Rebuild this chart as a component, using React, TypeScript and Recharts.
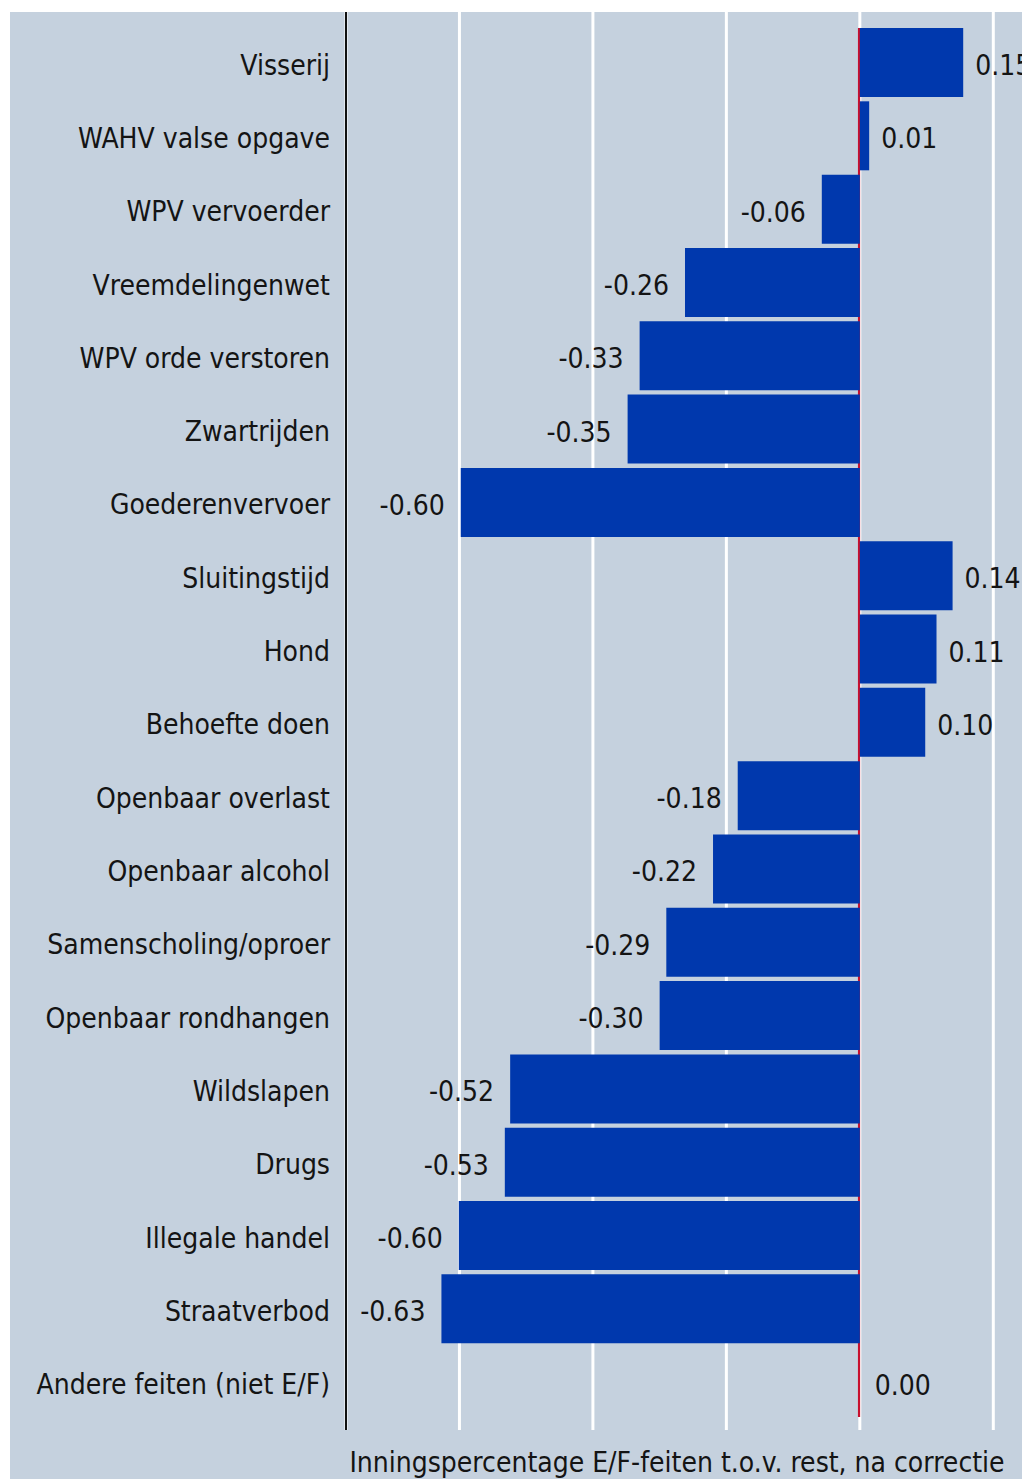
import { Bar, BarChart, CartesianGrid, Cell, LabelList, ReferenceLine, XAxis, YAxis } from "recharts";

const categories = [
  "Visserij",
  "WAHV valse opgave",
  "WPV vervoerder",
  "Vreemdelingenwet",
  "WPV orde verstoren",
  "Zwartrijden",
  "Goederenvervoer",
  "Sluitingstijd",
  "Hond",
  "Behoefte doen",
  "Openbaar overlast",
  "Openbaar alcohol",
  "Samenscholing/oproer",
  "Openbaar rondhangen",
  "Wildslapen",
  "Drugs",
  "Illegale handel",
  "Straatverbod",
  "Andere feiten (niet E/F)",
];

const values = [
  0.1549, 0.014, -0.057, -0.262, -0.33, -0.348, -0.598, 0.139, 0.1149, 0.098, -0.183, -0.22, -0.29, -0.3, -0.524,
  -0.532, -0.601, -0.627, 0,
];

const gridTicks = [-0.6, -0.4, -0.2, 0, 0.2];
const axisTitle = "Inningspercentage E/F-feiten t.o.v. rest, na correctie";

const chartData = categories.map((name, i) => ({ name, value: values[i] }));

const bg = "#c5d1de";
const barFill = "#0038ad";
const zeroRed = "#c8102e";
const textColor = "#141414";
const font = "'DejaVu Sans Condensed', 'DejaVu Sans', sans-serif";

const ValueLabel = (props: any) => {
  const { x, y, width, height, value } = props;
  const left = Math.min(Number(x), Number(x) + Number(width));
  const right = Math.max(Number(x), Number(x) + Number(width));
  const v = Number(value);
  const cy = Number(y) + Number(height) / 2 + 3;
  const tx = v > 0 ? right + 12 : v < 0 ? left - 16 : right + 14;
  return (
    <text
      x={tx}
      y={cy}
      textAnchor={v < 0 ? "end" : "start"}
      dominantBaseline="central"
      fontSize={28}
      fontFamily={font}
      fontStretch="condensed"
      fill={textColor}
    >
      {v.toFixed(2)}
    </text>
  );
};

const ZeroLine = (props: any) => {
  const { x1, y1, x2, y2 } = props;
  const top = Math.min(y1, y2);
  const bottom = Math.max(y1, y2);
  return <line x1={x1 - 0.8} x2={x2 - 0.8} y1={top + 16} y2={bottom - 13} stroke={zeroRed} strokeWidth={2.2} />;
};

const AxisTitle = (props: any) => {
  const vb = props.viewBox || {};
  return (
    <text
      x={vb.x + vb.width / 2 - 11}
      y={vb.y + 32}
      textAnchor="middle"
      dominantBaseline="central"
      fontSize={28}
      fontFamily={font}
      fontStretch="condensed"
      fill={textColor}
    >
      {axisTitle}
    </text>
  );
};

const NoTick = () => <g />;

export default function App() {
  return (
    <div style={{ marginLeft: 2, marginTop: 4, width: 1020, height: 1467, background: bg, overflow: "hidden" }}>
      <BarChart
        width={1020}
        height={1467}
        data={chartData}
        layout="vertical"
        barSize={69}
        margin={{ top: 0, right: 0, bottom: 0, left: 0 }}
      >
        <CartesianGrid horizontal={false} stroke="#ffffff" strokeWidth={3} strokeOpacity={1} />
        <XAxis
          type="number"
          domain={[-0.77, 0.255]}
          ticks={gridTicks}
          allowDataOverflow
          tick={NoTick}
          tickLine={false}
          axisLine={false}
          height={49}
          label={<AxisTitle />}
        />
        <YAxis
          type="category"
          dataKey="name"
          width={336}
          padding={{ top: 14, bottom: 11 }}
          tickLine={false}
          tickMargin={10}
          axisLine={{ stroke: "#111111", strokeWidth: 2 }}
          tick={{ fontSize: 28, fill: textColor, fontFamily: font, fontStretch: "condensed", dy: 2 } as any}
          interval={0}
        />
        <ReferenceLine x={0} shape={<ZeroLine />} {...({ zIndex: 250 } as any)} />
        <Bar dataKey="value" fill={barFill} minPointSize={1} isAnimationActive={false}>
          {chartData.map((d) => (
            <Cell key={d.name} fill={d.value === 0 ? "transparent" : barFill} />
          ))}
          <LabelList dataKey="value" content={<ValueLabel />} />
        </Bar>
      </BarChart>
    </div>
  );
}
